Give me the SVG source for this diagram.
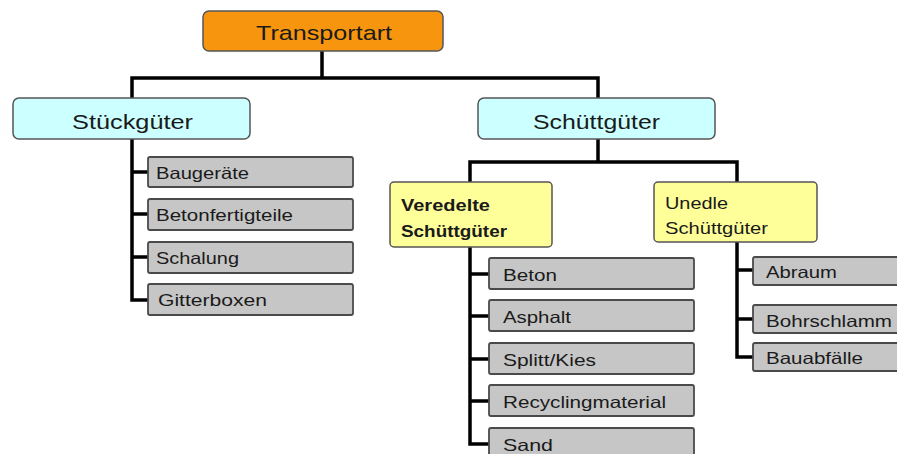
<svg xmlns="http://www.w3.org/2000/svg" width="897" height="454" viewBox="0 0 897 454">
<style>
text{font-family:"Liberation Sans",Arial,sans-serif;fill:#1a1a1a}
.top{fill:#F7960E;stroke:#555;stroke-width:1.5}
.cat{fill:#CCFFFF;stroke:#555;stroke-width:1.5}
.sub{fill:#FFFF99;stroke:#555;stroke-width:1.5}
.leaf{fill:#C6C6C6;stroke:#4a4a4a;stroke-width:1.8}
.big{font-size:21px}
.mid{font-size:17px}
.sm{font-size:16.5px}
.conn path{fill:none;stroke:#000;stroke-width:3.5;stroke-linejoin:miter;stroke-linecap:square}
</style>
<rect width="897" height="454" fill="#fff"/>
<g class="conn">
<path d="M322 52V78M132 78H598M132 78V97M598 78V97"/>
<path d="M132 140V300H147M132 172H147M132 214H147M132 257H147"/>
<path d="M598 140V162M470 162H737M470 162V181M737 162V181"/>
<path d="M470 248V444H488M470 274H488M470 316H488M470 359H488M470 401H488"/>
<path d="M737 243V357H752M737 270H752M737 319H752"/>
</g>
<g id="transportart"><rect class="top" x="203" y="11" width="240" height="40" rx="6"/><text class="big" x="256" y="40" textLength="136" lengthAdjust="spacingAndGlyphs">Transportart</text></g>
<g id="stueckgueter"><rect class="cat" x="13" y="98" width="237" height="41" rx="6"/><text class="big" x="72" y="129" textLength="121" lengthAdjust="spacingAndGlyphs">Stückgüter</text></g>
<g id="schuettgueter"><rect class="cat" x="478" y="98" width="237" height="41" rx="6"/><text class="big" x="533" y="129" textLength="127" lengthAdjust="spacingAndGlyphs">Schüttgüter</text></g>
<g id="veredelte"><rect class="sub" x="390" y="182" width="162" height="65" rx="4"/><text class="mid" x="401" y="211" font-weight="bold" textLength="89" lengthAdjust="spacingAndGlyphs">Veredelte</text><text class="mid" x="401" y="237" font-weight="bold" textLength="106" lengthAdjust="spacingAndGlyphs">Schüttgüter</text></g>
<g id="unedle"><rect class="sub" x="654" y="182" width="163" height="60" rx="4"/><text class="mid" x="665" y="209" textLength="63" lengthAdjust="spacingAndGlyphs">Unedle</text><text class="mid" x="665" y="234" textLength="103" lengthAdjust="spacingAndGlyphs">Schüttgüter</text></g>
<g id="baugeraete"><rect class="leaf" x="148" y="157" width="205" height="30" rx="2"/><text class="sm" x="156" y="179" textLength="93" lengthAdjust="spacingAndGlyphs">Baugeräte</text></g>
<g id="betonfertigteile"><rect class="leaf" x="148" y="199" width="205" height="31" rx="2"/><text class="sm" x="156" y="221" textLength="137" lengthAdjust="spacingAndGlyphs">Betonfertigteile</text></g>
<g id="schalung"><rect class="leaf" x="148" y="242" width="205" height="31" rx="2"/><text class="sm" x="156" y="264" textLength="83" lengthAdjust="spacingAndGlyphs">Schalung</text></g>
<g id="gitterboxen"><rect class="leaf" x="148" y="284" width="205" height="31" rx="2"/><text class="sm" x="158" y="306" textLength="109" lengthAdjust="spacingAndGlyphs">Gitterboxen</text></g>
<g id="beton"><rect class="leaf" x="489" y="258" width="205" height="31" rx="2"/><text class="sm" x="503" y="281" textLength="54" lengthAdjust="spacingAndGlyphs">Beton</text></g>
<g id="asphalt"><rect class="leaf" x="489" y="300" width="205" height="31" rx="2"/><text class="sm" x="503" y="323" textLength="68" lengthAdjust="spacingAndGlyphs">Asphalt</text></g>
<g id="splitt"><rect class="leaf" x="489" y="343" width="205" height="31" rx="2"/><text class="sm" x="503" y="366" textLength="93" lengthAdjust="spacingAndGlyphs">Splitt/Kies</text></g>
<g id="recycling"><rect class="leaf" x="489" y="385" width="205" height="31" rx="2"/><text class="sm" x="503" y="408" textLength="163" lengthAdjust="spacingAndGlyphs">Recyclingmaterial</text></g>
<g id="sand"><rect class="leaf" x="489" y="428" width="205" height="31" rx="2"/><text class="sm" x="503" y="451" textLength="50" lengthAdjust="spacingAndGlyphs">Sand</text></g>
<g id="abraum"><rect class="leaf" x="753" y="257" width="160" height="28" rx="2"/><text class="sm" x="766" y="278" textLength="71" lengthAdjust="spacingAndGlyphs">Abraum</text></g>
<g id="bohrschlamm"><rect class="leaf" x="753" y="305" width="160" height="28" rx="2"/><text class="sm" x="766" y="327" textLength="126" lengthAdjust="spacingAndGlyphs">Bohrschlamm</text></g>
<g id="bauabfaelle"><rect class="leaf" x="753" y="343" width="160" height="28" rx="2"/><text class="sm" x="766" y="364" textLength="97" lengthAdjust="spacingAndGlyphs">Bauabfälle</text></g>
</svg>
